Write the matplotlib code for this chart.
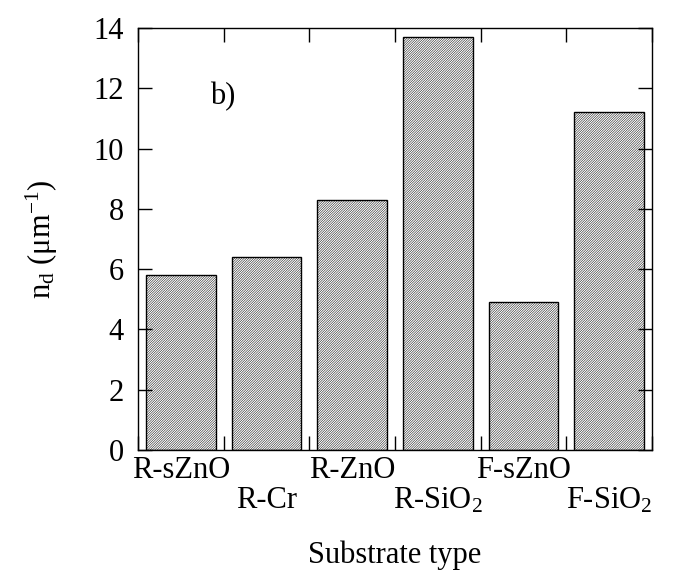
import matplotlib
matplotlib.use("Agg")
import matplotlib.pyplot as plt
import numpy as np

# substrate types and defect density values
substrates = ["R-sZnO", "R-Cr", "R-ZnO", "R-SiO$_2$", "F-sZnO", "F-SiO$_2$"]
n_d = [5.8, 6.4, 8.3, 13.7, 4.9, 11.2]

plt.rcParams['font.family'] = ['Liberation Serif', 'DejaVu Serif']
plt.rcParams['mathtext.fontset'] = 'custom'
plt.rcParams['mathtext.rm'] = 'Liberation Serif'
plt.rcParams['mathtext.it'] = 'Liberation Serif'
plt.rcParams['hatch.color'] = '#b4b4b4'
plt.rcParams['hatch.linewidth'] = 0.35

fs = 22

fig = plt.figure(figsize=(6.78, 5.77), dpi=100)
ax = fig.add_axes([0.2035, 0.22, 0.7582, 0.7315])

x = np.arange(len(substrates))
ax.bar(x, n_d, width=0.81, facecolor='white', edgecolor='black',
       linewidth=1.0, hatch='/' * 14)

ax.set_xlim(-0.5, len(substrates) - 0.5)
ax.set_ylim(0, 14)
ax.set_yticks(np.arange(0, 15, 2))
ax.set_xticks(x)
ax.set_xticklabels(substrates, fontsize=fs)
ax.set_xticks(np.arange(-0.5, len(substrates), 1.0), minor=True)

ax.tick_params(axis='x', which='major', length=0)
ax.tick_params(axis='x', which='minor', direction='in', length=10,
               top=True, bottom=True, width=1)
ax.tick_params(axis='y', which='major', direction='in', length=10,
               left=True, right=True, labelsize=fs, width=1, pad=10)

# alternate label heights like the original
for i, t in enumerate(ax.xaxis.get_major_ticks()):
    t.set_pad(4 if i % 2 == 0 else 26)

for s in ax.spines.values():
    s.set_linewidth(1.0)

ax.set_ylabel(r"n$_\mathrm{d}$ ($\mathrm{\mu}$m$^{-1}$)", fontsize=fs, labelpad=24)
ax.set_xlabel("Substrate type", fontsize=fs, labelpad=18)

ax.text(0.14, 0.82, "b)", transform=ax.transAxes, fontsize=fs)

fig.savefig("out.png", dpi=100)
